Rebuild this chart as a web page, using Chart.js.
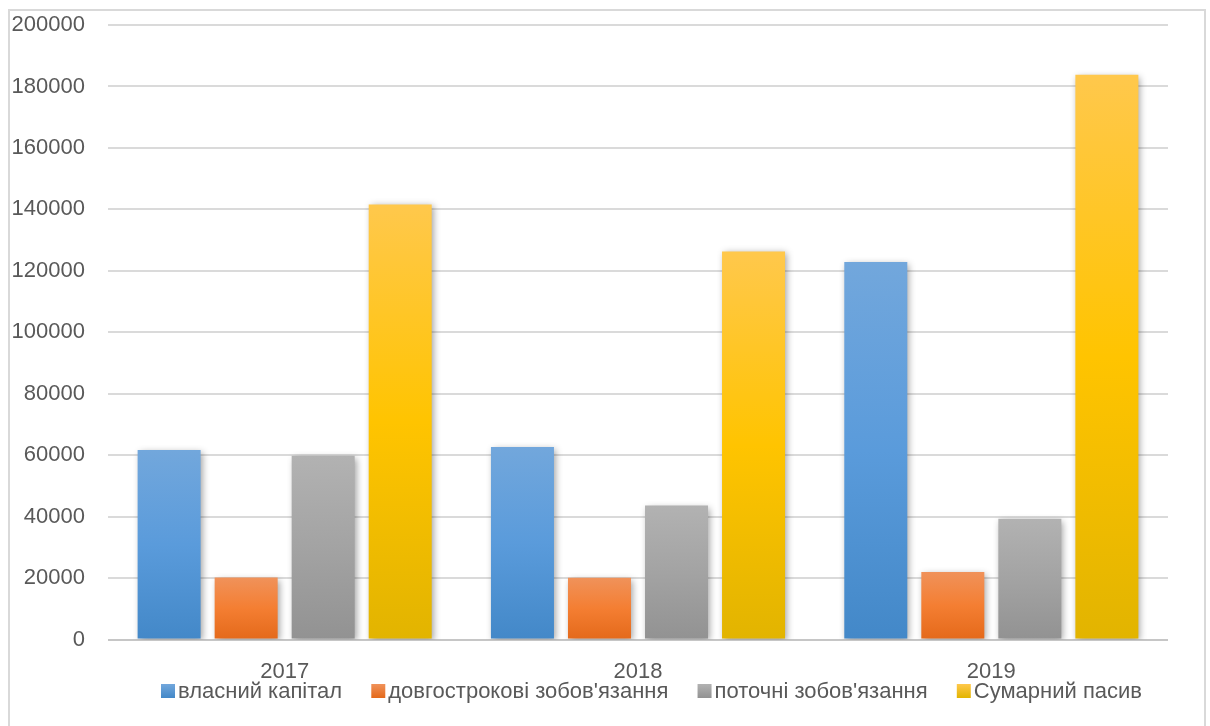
<!DOCTYPE html>
<html>
<head>
<meta charset="utf-8">
<script src="https://cdn.jsdelivr.net/npm/chart.js@4/dist/chart.umd.min.js"></script>
<style>
  html, body { margin: 0; padding: 0; background: #ffffff; }
  #wrap { position: relative; width: 1210px; height: 726px; overflow: hidden; }
  #frame { position: absolute; left: 8px; top: 9px; width: 1198px; height: 800px; border: 2px solid #D9D9D9; box-sizing: border-box; }
  #c { position: absolute; left: 0; top: 0; }
</style>
</head>
<body>
<div id="wrap">
  <div id="frame"></div>
  <canvas id="c" width="1210" height="726"></canvas>
</div>
<script>
const categories = ['2017', '2018', '2019'];
const seriesNames = ['власний капітал', "довгострокові зобов'язання", "поточні зобов'язання", 'Сумарний пасив'];
const equity = [61700, 62700, 122900];
const longTerm = [20200, 20100, 22000];
const current = [59800, 43600, 39300];
const totalLiab = [141600, 126300, 183800];
const yTicks = [0, 20000, 40000, 60000, 80000, 100000, 120000, 140000, 160000, 180000, 200000];

const FONT = 'Liberation Sans';
const TEXT = '#595959';

// gradient stops per series: top, middle, bottom
const gradStops = [
  ['#72A7DC', '#5A9BDB', '#4388C8'],
  ['#F0925A', '#F47E32', '#E4691A'],
  ['#B2B2B2', '#A3A3A3', '#929292'],
  ['#FFC84C', '#FFC400', '#E2B400']
];

function gradFor(i) {
  return function(ctx) {
    const chart = ctx.chart;
    const y = chart.scales && chart.scales.y;
    if (!y || ctx.type !== 'data' || ctx.parsed == null) return gradStops[i][1];
    const top = y.getPixelForValue(ctx.parsed.y);
    const bot = y.getPixelForValue(0);
    if (!isFinite(top) || !isFinite(bot) || top === bot) return gradStops[i][1];
    const g = chart.ctx.createLinearGradient(0, top, 0, bot);
    g.addColorStop(0, gradStops[i][0]);
    g.addColorStop(0.5, gradStops[i][1]);
    g.addColorStop(1, gradStops[i][2]);
    return g;
  };
}

const shadowPlugin = {
  id: 'shadow',
  beforeDatasetsDraw(chart) {
    const c = chart.ctx;
    c.save();
    c.shadowColor = 'rgba(0,0,0,0.38)';
    c.shadowBlur = 7;
    c.shadowOffsetX = 2;
    c.shadowOffsetY = 2;
  },
  afterDatasetsDraw(chart) { chart.ctx.restore(); }
};

const legendPlugin = {
  id: 'customLegend',
  afterDraw(chart) {
    const c = chart.ctx;
    c.save();
    c.font = '22px "' + FONT + '"';
    c.textBaseline = 'middle';
    const box = 14, gap = 3;
    const widths = seriesNames.map(n => c.measureText(n).width);
    const left = 161, right = 1142;
    let sum = 0;
    widths.forEach(w => { sum += box + gap + w; });
    const itemGap = (right - left - sum) / (widths.length - 1);
    let x = left;
    const yc = 691;
    seriesNames.forEach((n, i) => {
      const g = c.createLinearGradient(0, yc - box / 2, 0, yc + box / 2);
      g.addColorStop(0, gradStops[i][0]);
      g.addColorStop(1, gradStops[i][2]);
      c.fillStyle = g;
      c.fillRect(x, yc - box / 2, box, box);
      c.fillStyle = TEXT;
      c.fillText(n, x + box + gap, yc + 1);
      x += box + gap + widths[i] + itemGap;
    });
    c.restore();
  }
};

const seriesData = [equity, longTerm, current, totalLiab];
const datasets = seriesData.map((d, i) => ({
  label: seriesNames[i],
  data: d,
  backgroundColor: gradFor(i),
  borderWidth: 0,
  categoryPercentage: 0.872,
  barPercentage: 0.818
}));

new Chart(document.getElementById('c'), {
  type: 'bar',
  data: { labels: categories, datasets: datasets },
  plugins: [shadowPlugin, legendPlugin],
  options: {
    responsive: false,
    animation: false,
    devicePixelRatio: 1,
    layout: { padding: { top: 25, right: 42, left: 0, bottom: 30 } },
    plugins: { legend: { display: false }, tooltip: { enabled: false } },
    scales: {
      x: {
        grid: { display: false },
        border: { display: false },
        ticks: { color: TEXT, font: { family: FONT, size: 22 }, padding: 11 }
      },
      y: {
        min: 0, max: 200000,
        afterFit(scale) { scale.width = 108; scale.paddingTop = 0; scale.paddingBottom = 0; },
        afterBuildTicks(scale) { scale.ticks = yTicks.map(v => ({ value: v })); },
        border: { display: false },
        grid: {
          drawTicks: false,
          lineWidth: 2,
          color: (ctx) => (ctx.tick && ctx.tick.value === 0) ? '#C6C6C6' : '#DADADA'
        },
        ticks: { color: TEXT, font: { family: FONT, size: 22 }, padding: 23, callback: (v) => String(v) }
      }
    }
  }
});
</script>
</body>
</html>
